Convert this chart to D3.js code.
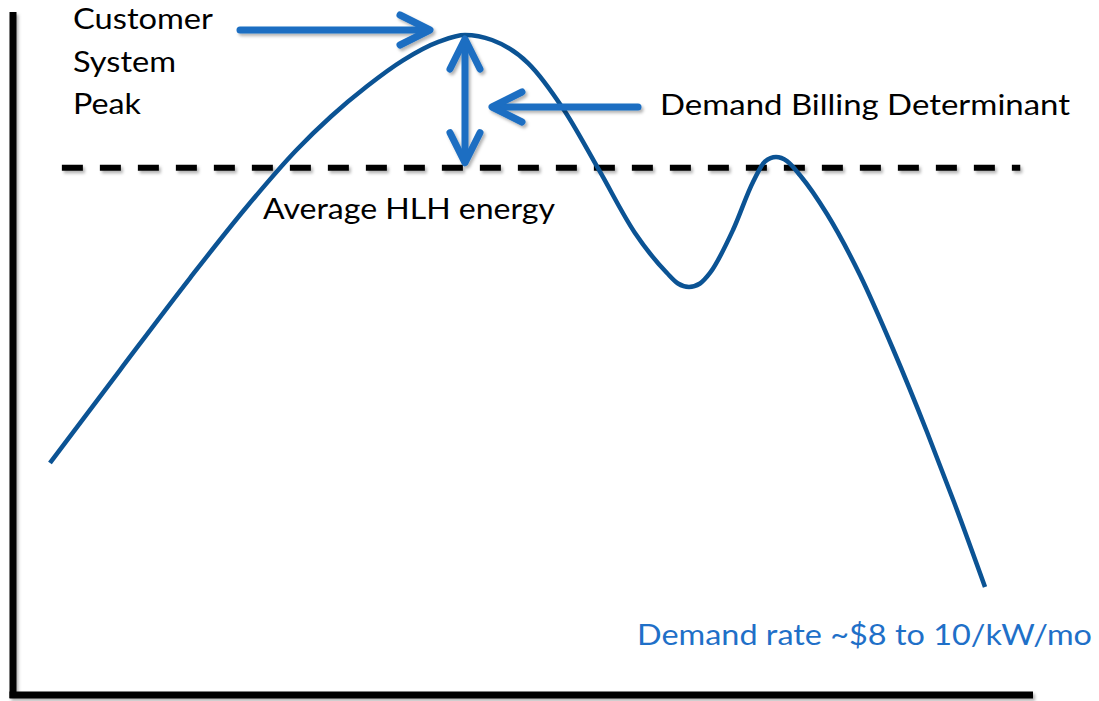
<!DOCTYPE html>
<html>
<head>
<meta charset="utf-8">
<script src="https://cdn.jsdelivr.net/npm/d3@7"></script>
<style>
  html, body { margin: 0; padding: 0; background: #fff; }
  svg { display: block; }
  text { font-family: Lato, "Open Sans", sans-serif; }
</style>
</head>
<body>
<svg id="chart" width="1099" height="701"></svg>
<script>
// Daily load shape (hour of day, load as % of scale)
const hours = [0.871, 2.518, 4.165, 5.506, 6.659, 7.482, 8.329, 9.176, 10.024, 10.635, 11.271, 12.118, 12.965, 13.788, 14.635, 15.388, 15.647, 15.906, 16.165, 16.4, 16.941, 17.412, 17.694, 17.953, 18.212, 18.518, 19.153, 19.929, 20.706, 21.506, 22.141, 22.871];
const load  = [33.97, 47.58, 61.05, 71.52, 79.72, 84.70, 89.12, 92.91, 95.65, 96.63, 95.90, 92.53, 85.65, 76.87, 67.64, 61.79, 60.25, 59.74, 60.25, 61.79, 68.08, 75.11, 78.11, 78.77, 78.18, 76.10, 70.42, 61.49, 50.66, 38.51, 28.26, 15.81];

// Average heavy-load-hour energy level and the span it is drawn over
const avgLevel = [77.2];
const avgSpan = [1.15, 23.7];

// Annotation labels
const peakLabel = ["Customer", "System", "Peak"];
const determinantLabel = ["Demand Billing Determinant"];
const avgLabel = ["Average HLH energy"];
const rateLabel = ["Demand rate ~$8 to 10/kW/mo"];

const svg = d3.select("#chart");
const x = d3.scaleLinear().domain([0, 24]).range([13, 1033]);
const y = d3.scaleLinear().domain([0, 100]).range([695, 12]);

// Soft drop shadow used on axes, dashed line and arrows
const defs = svg.append("defs");
const f = defs.append("filter").attr("id", "shadow")
  .attr("filterUnits", "userSpaceOnUse")
  .attr("x", 0).attr("y", 0).attr("width", 1099).attr("height", 701);
f.append("feDropShadow").attr("dx", 2).attr("dy", 2.5).attr("stdDeviation", 1.6)
  .attr("flood-color", "#000").attr("flood-opacity", 0.3);

// Axes: plain frame lines, no ticks
const axisG = svg.append("g").attr("filter", "url(#shadow)");
axisG.append("line")
  .attr("x1", x(0)).attr("x2", x(0))
  .attr("y1", y(100)).attr("y2", y(0) + 3)
  .attr("stroke", "#000").attr("stroke-width", 7);
axisG.append("line")
  .attr("x1", x(0) - 3.5).attr("x2", x(24))
  .attr("y1", y(0)).attr("y2", y(0))
  .attr("stroke", "#000").attr("stroke-width", 7);

// Dashed average line
svg.append("line")
  .attr("x1", x(avgSpan[0])).attr("x2", x(avgSpan[1]))
  .attr("y1", y(avgLevel[0])).attr("y2", y(avgLevel[0]))
  .attr("stroke", "#000").attr("stroke-width", 6)
  .attr("stroke-dasharray", "21 17")
  .attr("filter", "url(#shadow)");

// Load curve
const line = d3.line()
  .x((d, i) => x(hours[i]))
  .y(d => y(d))
  .curve(d3.curveMonotoneX);
svg.append("path")
  .datum(load)
  .attr("d", line)
  .attr("fill", "none")
  .attr("stroke", "#0B5394")
  .attr("stroke-width", 4.5);

// Arrows
const arrowColor = "#1B6EC2";
const arrows = svg.append("g")
  .attr("stroke", arrowColor).attr("stroke-width", 7)
  .attr("stroke-linecap", "round").attr("stroke-linejoin", "round")
  .attr("fill", "none").attr("filter", "url(#shadow)");

const peakIdx = d3.maxIndex(load);
const px = x(hours[peakIdx]);
const pTop = y(load[peakIdx]) + 4;
const pBot = y(avgLevel[0]) - 5;
const hw = 15, hl = 30;

// Arrow pointing at the peak from the label
const a1y = 30, a1x0 = 240, a1x1 = px - 35;
arrows.append("line").attr("x1", a1x0).attr("x2", a1x1 - 2).attr("y1", a1y).attr("y2", a1y);
arrows.append("path").attr("d", `M${a1x1 - hl},${a1y - hw}L${a1x1},${a1y}L${a1x1 - hl},${a1y + hw}`);

// Double-headed arrow between peak and average
arrows.append("line").attr("x1", px).attr("x2", px).attr("y1", pTop + 2).attr("y2", pBot - 2);
arrows.append("path").attr("d", `M${px - hw},${pTop + hl}L${px},${pTop}L${px + hw},${pTop + hl}`);
arrows.append("path").attr("d", `M${px - hw},${pBot - hl}L${px},${pBot}L${px + hw},${pBot - hl}`);

// Arrow from determinant label toward the double arrow
const a3y = 107, a3x0 = 638, a3x1 = px + 27;
arrows.append("line").attr("x1", a3x0).attr("x2", a3x1 + 2).attr("y1", a3y).attr("y2", a3y);
arrows.append("path").attr("d", `M${a3x1 + hl},${a3y - hw}L${a3x1},${a3y}L${a3x1 + hl},${a3y + hw}`);

// Labels (stretched to the typeset widths)
const fs = 28;
const peakWidths = [140, 103, 68];
svg.append("g").selectAll("text").data(peakLabel).join("text")
  .attr("x", 73).attr("y", (d, i) => 29 + i * 42.5)
  .attr("font-size", fs).attr("fill", "#000")
  .attr("textLength", (d, i) => peakWidths[i]).attr("lengthAdjust", "spacingAndGlyphs")
  .text(d => d);

svg.append("text").attr("x", 660).attr("y", 115)
  .attr("font-size", fs).attr("fill", "#000")
  .attr("textLength", 410).attr("lengthAdjust", "spacingAndGlyphs")
  .text(determinantLabel[0]);

svg.append("text").attr("x", 263).attr("y", 219)
  .attr("font-size", fs).attr("fill", "#000")
  .attr("textLength", 292).attr("lengthAdjust", "spacingAndGlyphs")
  .text(avgLabel[0]);

svg.append("text").attr("x", 637).attr("y", 645)
  .attr("font-size", fs).attr("fill", "#1F70C8")
  .attr("textLength", 455).attr("lengthAdjust", "spacingAndGlyphs")
  .text(rateLabel[0]);
</script>
</body>
</html>
